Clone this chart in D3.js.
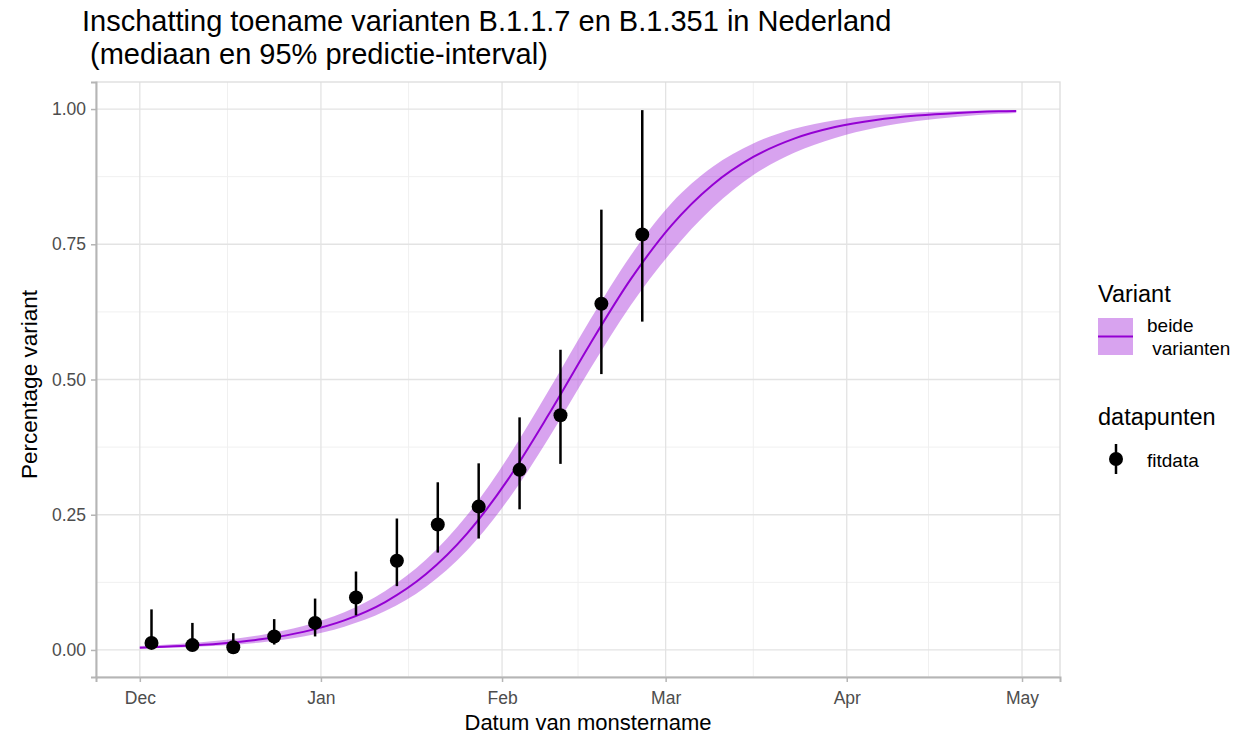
<!DOCTYPE html>
<html>
<head>
<meta charset="utf-8">
<script src="https://cdn.jsdelivr.net/npm/d3@7"></script>
<style>
  body { margin: 0; background: #fff; }
  svg { display: block; font-family: "Liberation Sans", Arial, Helvetica, sans-serif; }
</style>
</head>
<body>
<svg id="chart" width="1236" height="737"></svg>
<script>
// fitted curve (median + 95% interval) at weekly steps
const curveDates = ["2020-12-01","2020-12-08","2020-12-15","2020-12-22","2020-12-29","2021-01-05",
  "2021-01-12","2021-01-19","2021-01-26","2021-02-02","2021-02-09","2021-02-16","2021-02-23",
  "2021-03-02","2021-03-09","2021-03-16","2021-03-23","2021-03-30","2021-04-06","2021-04-13",
  "2021-04-20","2021-04-27","2021-04-30"];
const curveMedian = [0.0043,0.0072,0.0121,0.0201,0.0334,0.0547,0.0886,0.1403,0.2150,0.3150,0.4356,
  0.5644,0.6850,0.7850,0.8597,0.9114,0.9453,0.9667,0.9799,0.9879,0.9928,0.9957,0.9965];
const curveLow = [0.0026,0.0046,0.0081,0.0143,0.0249,0.0430,0.0718,0.1170,0.1840,0.2770,0.3920,
  0.5180,0.6370,0.7360,0.8170,0.8780,0.9190,0.9465,0.9653,0.9778,0.9859,0.9912,0.9928];
const curveHigh = [0.0071,0.0113,0.0179,0.0283,0.0445,0.0695,0.1090,0.1670,0.2490,0.3560,0.4800,
  0.6090,0.7290,0.8260,0.8930,0.9365,0.9635,0.9793,0.9884,0.9935,0.9963,0.9979,0.9983];

// weekly data points with error bars
const pointDates = ["2020-12-03","2020-12-10","2020-12-17","2020-12-24","2020-12-31","2021-01-07",
  "2021-01-14","2021-01-21","2021-01-28","2021-02-04","2021-02-11","2021-02-18","2021-02-25"];
const pointValues = [0.013,0.009,0.005,0.025,0.050,0.097,0.165,0.232,0.265,0.333,0.434,0.640,0.768];
const pointLow    = [0.002,0.002,0.000,0.010,0.025,0.064,0.118,0.180,0.206,0.260,0.344,0.510,0.607];
const pointHigh   = [0.075,0.050,0.031,0.057,0.095,0.145,0.243,0.310,0.345,0.430,0.555,0.814,0.998];

const xTickDates = ["2020-12-01","2021-01-01","2021-02-01","2021-03-01","2021-04-01","2021-05-01"];
const xMinorDates = ["2020-12-16","2021-01-16","2021-02-14","2021-03-16","2021-04-15"];
const yTicks = [0, 0.25, 0.5, 0.75, 1];
const yMinor = [0.125, 0.375, 0.625, 0.875];

const parse = d3.utcParse("%Y-%m-%d");

const margin = {left: 96, top: 82, right: 1236 - 1060, bottom: 737 - 677};
const W = 1236, H = 737;
const pw = W - margin.left - margin.right;
const ph = H - margin.top - margin.bottom;

const svg = d3.select("#chart");

const curve = curveDates.map((d, i) => ({date: parse(d), mid: curveMedian[i], lo: curveLow[i], hi: curveHigh[i]}));
const points = pointDates.map((d, i) => ({date: parse(d), v: pointValues[i], lo: pointLow[i], hi: pointHigh[i]}));

const xStart = curve[0].date, xEnd = curve[curve.length - 1].date;
const pad = (xEnd - xStart) * 0.05;
const x = d3.scaleUtc()
  .domain([new Date(+xStart - pad), new Date(+xEnd + pad)])
  .range([0, pw]);
const y = d3.scaleLinear().domain([-0.05, 1.05]).range([ph, 0]);

const g = svg.append("g").attr("transform", `translate(${margin.left},${margin.top})`);

// grid
g.append("g").selectAll("line").data(xMinorDates.map(parse)).enter().append("line")
  .attr("x1", d => x(d)).attr("x2", d => x(d)).attr("y1", 0).attr("y2", ph)
  .attr("stroke", "#f0f0f0").attr("stroke-width", 1);
g.append("g").selectAll("line").data(yMinor).enter().append("line")
  .attr("x1", 0).attr("x2", pw).attr("y1", d => y(d)).attr("y2", d => y(d))
  .attr("stroke", "#f0f0f0").attr("stroke-width", 1);
g.append("g").selectAll("line").data(xTickDates.map(parse)).enter().append("line")
  .attr("x1", d => x(d)).attr("x2", d => x(d)).attr("y1", 0).attr("y2", ph)
  .attr("stroke", "#e3e3e3").attr("stroke-width", 1.3);
g.append("g").selectAll("line").data(yTicks).enter().append("line")
  .attr("x1", 0).attr("x2", pw).attr("y1", d => y(d)).attr("y2", d => y(d))
  .attr("stroke", "#e3e3e3").attr("stroke-width", 1.3);

// panel border
g.append("rect").attr("x", 0).attr("y", 0).attr("width", pw).attr("height", ph)
  .attr("fill", "none").attr("stroke", "#dcdcdc").attr("stroke-width", 1.3);

// ribbon + median line
const area = d3.area().x(d => x(d.date)).y0(d => y(d.lo)).y1(d => y(d.hi)).curve(d3.curveMonotoneX);
const line = d3.line().x(d => x(d.date)).y(d => y(d.mid)).curve(d3.curveMonotoneX);
g.append("path").datum(curve).attr("d", area).attr("fill", "darkviolet").attr("fill-opacity", 0.36);
g.append("path").datum(curve).attr("d", line).attr("fill", "none")
  .attr("stroke", "darkviolet").attr("stroke-width", 2);

// error bars + points
g.append("g").selectAll("line").data(points).enter().append("line")
  .attr("x1", d => x(d.date)).attr("x2", d => x(d.date))
  .attr("y1", d => y(d.lo)).attr("y2", d => y(d.hi))
  .attr("stroke", "#000").attr("stroke-width", 2.5);
g.append("g").selectAll("circle").data(points).enter().append("circle")
  .attr("cx", d => x(d.date)).attr("cy", d => y(d.v)).attr("r", 7).attr("fill", "#000");

// axes
const xAxis = g.append("g").attr("transform", `translate(0,${ph})`)
  .call(d3.axisBottom(x).tickValues(xTickDates.map(parse)).tickFormat(d3.utcFormat("%b"))
    .tickSize(5).tickPadding(5));
const yAxis = g.append("g")
  .call(d3.axisLeft(y).tickValues(yTicks).tickFormat(d3.format(".2f")).tickSize(5).tickPadding(5));
[xAxis, yAxis].forEach(a => {
  a.select(".domain").attr("stroke", "#b5b5b5").attr("stroke-width", 2);
  a.selectAll(".tick line").attr("stroke", "#b5b5b5").attr("stroke-width", 1.5);
  a.selectAll(".tick text").attr("fill", "#4d4d4d").style("font-size", "17.5px")
    .style("font-family", "Liberation Sans, Arial, sans-serif");
});
xAxis.selectAll(".tick text").attr("dy", "0.95em");

// axis titles
svg.append("text").attr("x", margin.left + pw / 2 + 10).attr("y", 730)
  .attr("text-anchor", "middle").style("font-size", "22px").text("Datum van monstername");
svg.append("text").attr("transform", `translate(37,${margin.top + ph / 2 + 5}) rotate(-90)`)
  .attr("text-anchor", "middle").style("font-size", "22.5px").text("Percentage variant");

// title
svg.append("text").attr("x", 82).attr("y", 31).style("font-size", "29px")
  .text("Inschatting toename varianten B.1.1.7 en B.1.351 in Nederland");
svg.append("text").attr("x", 82).attr("y", 64).style("font-size", "29px").attr("xml:space", "preserve")
  .text(" (mediaan en 95% predictie-interval)");

// legend
const lg = svg.append("g");
lg.append("text").attr("x", 1098).attr("y", 302).style("font-size", "23.5px").text("Variant");
lg.append("rect").attr("x", 1098).attr("y", 318).attr("width", 35).attr("height", 37)
  .attr("fill", "darkviolet").attr("fill-opacity", 0.36);
lg.append("line").attr("x1", 1098).attr("x2", 1133).attr("y1", 336.5).attr("y2", 336.5)
  .attr("stroke", "darkviolet").attr("stroke-width", 2);
lg.append("text").attr("x", 1147).attr("y", 332).style("font-size", "19px").text("beide");
lg.append("text").attr("x", 1147).attr("y", 355).style("font-size", "19px").attr("xml:space", "preserve")
  .text(" varianten");

lg.append("text").attr("x", 1098).attr("y", 425).style("font-size", "23.5px").text("datapunten");
lg.append("line").attr("x1", 1116).attr("x2", 1116).attr("y1", 444).attr("y2", 474)
  .attr("stroke", "#000").attr("stroke-width", 2.5);
lg.append("circle").attr("cx", 1116).attr("cy", 459).attr("r", 7).attr("fill", "#000");
lg.append("text").attr("x", 1147).attr("y", 467).style("font-size", "19px").text("fitdata");
</script>
</body>
</html>
